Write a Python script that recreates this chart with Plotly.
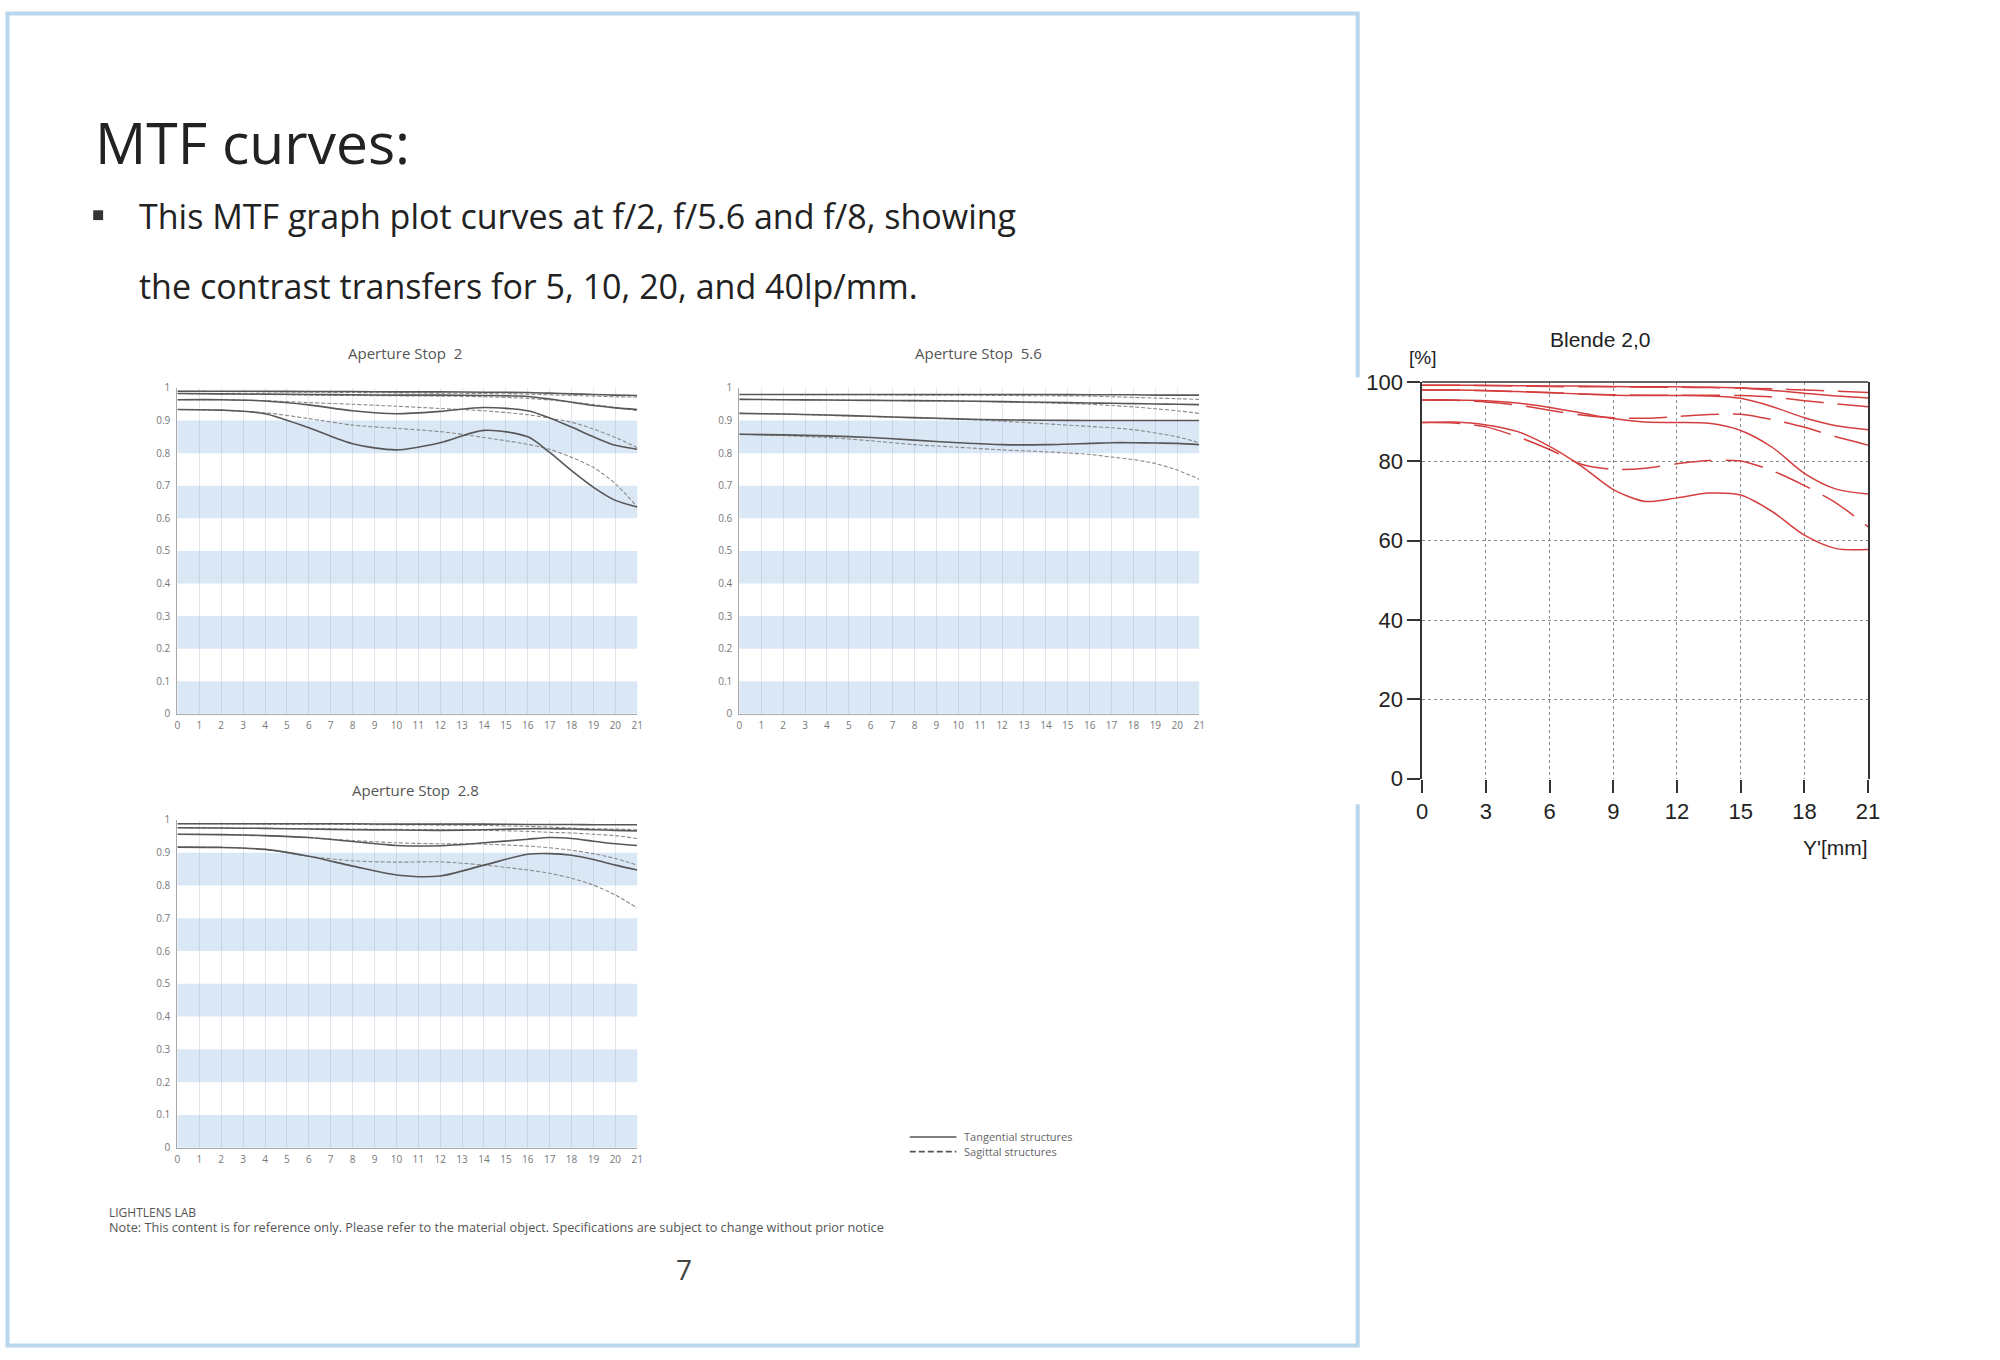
import plotly.graph_objects as go

W, H = 2000, 1360

# ---------------- data ----------------
# Grey MTF charts (Aperture Stop 2 / 5.6 / 2.8): image height in mm vs contrast
X_STOP = [0, 2, 4, 6, 8, 10, 12, 14, 16, 17, 18, 19, 20, 21]
X_STOP_TICKS = [0, 1, 2, 3, 4, 5, 6, 7, 8, 9, 10, 11, 12, 13, 14, 15, 16, 17, 18, 19, 20, 21]
Y_STOP_TICKS = [0, 0.1, 0.2, 0.3, 0.4, 0.5, 0.6, 0.7, 0.8, 0.9, 1]
Y_STOP_TICKTEXT = ["0", "0.1", "0.2", "0.3", "0.4", "0.5", "0.6", "0.7", "0.8", "0.9", "1"]

# Aperture Stop 2
S2_T1 = [.990, .990, .990, .989, .989, .988, .988, .987, .986, .984, .982, .980, .978, .977]
S2_S1 = [.990, .989, .988, .987, .986, .985, .984, .983, .981, .979, .977, .975, .973, .972]
S2_T2 = [.983, .982, .981, .980, .979, .978, .978, .977, .974, .966, .956, .946, .939, .934]
S2_S2 = [.983, .982, .980, .978, .977, .976, .975, .973, .968, .963, .957, .949, .940, .930]
S2_T3 = [.964, .964, .960, .948, .930, .921, .928, .940, .930, .908, .880, .850, .824, .812]
S2_S3 = [.964, .964, .961, .955, .950, .944, .937, .930, .918, .907, .895, .874, .848, .817]
S2_T4 = [.934, .932, .921, .878, .829, .810, .832, .870, .850, .802, .746, .695, .655, .635]
S2_S4 = [.934, .931, .924, .906, .886, .876, .866, .848, .827, .812, .787, .756, .706, .635]

# Aperture Stop 5.6
S56_T1 = [.980, .980, .980, .980, .980, .980, .980, .980, .979, .979, .979, .978, .978, .978]
S56_S1 = [.980, .980, .979, .979, .978, .978, .977, .976, .975, .973, .971, .969, .967, .965]
S56_T2 = [.965, .964, .963, .962, .961, .960, .958, .956, .954, .953, .952, .951, .950, .949]
S56_S2 = [.965, .964, .963, .962, .960, .959, .957, .954, .950, .946, .942, .936, .930, .922]
S56_T3 = [.922, .920, .917, .913, .909, .905, .902, .901, .900, .900, .900, .900, .900, .900]
S56_S3 = [.922, .920, .916, .912, .908, .904, .898, .890, .882, .878, .872, .862, .850, .832]
S56_T4 = [.858, .856, .853, .848, .840, .832, .826, .826, .830, .832, .832, .831, .830, .826]
S56_S4 = [.858, .854, .848, .838, .826, .818, .810, .804, .796, .788, .780, .768, .748, .720]

# Aperture Stop 2.8
S28_T1 = [.988, .988, .988, .988, .988, .987, .987, .987, .986, .986, .986, .985, .985, .985]
S28_S1 = [.988, .988, .987, .987, .986, .985, .984, .983, .980, .978, .975, .973, .972, .970]
S28_T2 = [.976, .975, .974, .972, .970, .969, .968, .970, .973, .973, .972, .970, .968, .966]
S28_S2 = [.976, .975, .974, .973, .972, .971, .970, .968, .965, .962, .960, .956, .952, .943]
S28_T3 = [.956, .955, .952, .946, .934, .922, .921, .930, .941, .946, .943, .935, .927, .922]
S28_S3 = [.956, .955, .952, .946, .937, .930, .927, .926, .920, .915, .907, .897, .882, .862]
S28_T4 = [.917, .916, .910, .889, .859, .832, .829, .862, .895, .897, .892, .879, .862, .847]
S28_S4 = [.917, .916, .910, .889, .875, .871, .872, .862, .847, .837, .822, .801, .771, .731]

# Red chart "Blende 2,0": Y'[mm] vs contrast [%]
X_BL = [0, 1.5, 3, 4.5, 6, 7.5, 9, 10.5, 12, 13.5, 15, 16.5, 18, 19.5, 21]
BL_X_TICKS = [0, 3, 6, 9, 12, 15, 18, 21]
BL_Y_TICKS = [0, 20, 40, 60, 80, 100]
BL_5_SOLID = [99.2, 99.2, 99.2, 99.1, 99.0, 99.0, 98.9, 98.8, 98.8, 98.7, 98.5, 97.9, 97.2, 96.5, 96.0]
BL_5_DASH = [99.2, 99.2, 99.1, 99.0, 98.9, 98.8, 98.8, 98.7, 98.7, 98.6, 98.5, 98.3, 98.0, 97.7, 97.4]
BL_10_SOLID = [98.0, 98.0, 97.9, 97.6, 97.3, 97.0, 96.7, 96.6, 96.6, 96.5, 95.9, 93.8, 91.0, 89.0, 88.0]
BL_10_DASH = [98.0, 98.0, 97.8, 97.6, 97.4, 97.0, 96.8, 96.7, 96.7, 96.7, 96.6, 96.2, 95.3, 94.5, 93.8]
BL_20_SOLID = [95.5, 95.5, 95.3, 94.7, 93.6, 92.2, 90.8, 89.9, 89.8, 89.6, 87.8, 83.5, 77.0, 73.0, 71.8]
BL_20_DASH = [95.5, 95.4, 95.0, 94.2, 92.9, 91.7, 91.0, 90.9, 91.3, 91.8, 91.9, 90.5, 88.6, 86.2, 84.1]
BL_40_SOLID = [89.8, 89.9, 89.2, 87.5, 83.8, 78.8, 72.9, 69.9, 70.8, 72.0, 71.5, 67.3, 61.4, 58.0, 57.8]
BL_40_DASH = [89.8, 89.7, 88.7, 86.2, 83.0, 79.3, 78.0, 78.3, 79.4, 80.2, 80.1, 77.6, 73.9, 69.5, 63.5]


def px(x):
    return x / W


def py(y):
    return 1 - y / H


fig = go.Figure()

TAN_COLOR = "#575757"
SAG_COLOR = "#8a8a8a"

stop_sets = [
    ("x", "y", [S2_T1, S2_T2, S2_T3, S2_T4], [S2_S1, S2_S2, S2_S3, S2_S4]),
    ("x2", "y2", [S56_T1, S56_T2, S56_T3, S56_T4], [S56_S1, S56_S2, S56_S3, S56_S4]),
    ("x3", "y3", [S28_T1, S28_T2, S28_T3, S28_T4], [S28_S1, S28_S2, S28_S3, S28_S4]),
]

for xa, ya, tans, sags in stop_sets:
    for s in sags:
        fig.add_trace(go.Scatter(
            x=X_STOP, y=s, xaxis=xa, yaxis=ya, mode="lines",
            line=dict(color=SAG_COLOR, width=1.1, dash="4px,2px", shape="spline", smoothing=0.8),
            name="Sagittal structures", showlegend=False, hoverinfo="skip"))
    for t in tans:
        fig.add_trace(go.Scatter(
            x=X_STOP, y=t, xaxis=xa, yaxis=ya, mode="lines",
            line=dict(color=TAN_COLOR, width=1.6, shape="spline", smoothing=0.8),
            name="Tangential structures", showlegend=False, hoverinfo="skip"))

RED = "rgb(212,62,62)"
for ys, dash in [(BL_5_SOLID, "solid"), (BL_5_DASH, "38px,14px"),
                 (BL_10_SOLID, "solid"), (BL_10_DASH, "38px,14px"),
                 (BL_20_SOLID, "solid"), (BL_20_DASH, "38px,14px"),
                 (BL_40_SOLID, "solid"), (BL_40_DASH, "38px,14px")]:
    fig.add_trace(go.Scatter(
        x=X_BL, y=ys, xaxis="x4", yaxis="y4", mode="lines",
        line=dict(color=RED, width=1.5, dash=dash, shape="spline", smoothing=0.8),
        showlegend=False, hoverinfo="skip"))

# ---------------- axes ----------------
tick_font = dict(family="Open Sans", size=10, color="#777")
stop_x = dict(range=[0, 21], tickvals=X_STOP_TICKS, ticktext=[str(v) for v in X_STOP_TICKS],
              showline=True, linecolor="#a8a8a8", linewidth=1.2, showgrid=True,
              gridcolor="rgba(150,165,185,0.28)", gridwidth=1, zeroline=False,
              ticks="", tickfont=tick_font, ticklabelstandoff=2)
stop_y = dict(range=[0, 1], tickvals=Y_STOP_TICKS, ticktext=Y_STOP_TICKTEXT,
              showline=True, linecolor="#a8a8a8", linewidth=1.2, showgrid=False,
              zeroline=False, ticks="", tickfont=tick_font, ticklabelstandoff=4)

bl_font = dict(family="Liberation Sans", size=22, color="#222")

fig.update_layout(
    width=W, height=H, autosize=False,
    margin=dict(l=0, r=0, t=0, b=0),
    paper_bgcolor="white", plot_bgcolor="white",
    xaxis=dict(domain=[px(173), px(637)], anchor="y", **stop_x),
    yaxis=dict(domain=[py(715), py(383)], anchor="x", **stop_y),
    xaxis2=dict(domain=[px(740), px(1204)], anchor="y2", **stop_x),
    yaxis2=dict(domain=[py(715), py(383)], anchor="x2", **stop_y),
    xaxis3=dict(domain=[px(173), px(637)], anchor="y3", **stop_x),
    yaxis3=dict(domain=[py(1157), py(823)], anchor="x3", **stop_y),
    xaxis4=dict(domain=[px(1429), px(1879)], anchor="y4", range=[0, 21], tickvals=BL_X_TICKS,
                showline=False, showgrid=True, gridcolor="#8a8a8a", griddash="dot", gridwidth=1,
                zeroline=False, ticks="outside", ticklen=13, tickwidth=1.5, tickcolor="#333",
                tickfont=bl_font),
    yaxis4=dict(domain=[py(781), py(377)], anchor="x4", range=[0, 100], tickvals=BL_Y_TICKS,
                showline=True, mirror=True, linecolor="#333", linewidth=1.5,
                showgrid=True, gridcolor="#8a8a8a", griddash="dot", gridwidth=1,
                zeroline=False, ticks="outside", ticklen=13, tickwidth=1.5, tickcolor="#333",
                tickfont=bl_font),
    showlegend=False,
)

shapes = []
# slide frame and white patch behind the red chart
shapes.append(dict(type="rect", xref="paper", yref="paper", x0=px(1.5), x1=px(1364), y0=py(1358.5), y1=py(1.5),
                   line=dict(color="#b9d7ec", width=4), fillcolor="white", layer="below"))
shapes.append(dict(type="rect", xref="paper", yref="paper", x0=px(1338), x1=px(1995), y0=py(807), y1=py(372),
                   line=dict(width=0), fillcolor="white", layer="below"))
# light blue bands in grey charts
for xa, ya in [("x", "y"), ("x2", "y2"), ("x3", "y3")]:
    for lo in [0.0, 0.2, 0.4, 0.6, 0.8]:
        shapes.append(dict(type="rect", xref=f"{xa} domain", yref=ya, x0=0, x1=1, y0=lo, y1=lo + 0.1,
                           line=dict(width=0), fillcolor="#dae8f6", layer="below"))
# top frame line of red chart
shapes.append(dict(type="line", xref="x4 domain", yref="y4 domain", x0=0, x1=1, y0=1, y1=1,
                   line=dict(color="#333", width=1.5)))
# bullet
shapes.append(dict(type="rect", xref="paper", yref="paper", x0=px(88), x1=px(98), y0=py(212), y1=py(202),
                   line=dict(width=0), fillcolor="#333"))
# legend samples (line styles)
shapes.append(dict(type="line", xref="paper", yref="paper", x0=px(912), x1=px(959), y0=py(1146), y1=py(1146),
                   line=dict(color="#555", width=1.6)))
shapes.append(dict(type="line", xref="paper", yref="paper", x0=px(912), x1=px(959), y0=py(1161), y1=py(1161),
                   line=dict(color="#555", width=1.6, dash="6px,3px")))
fig.update_layout(shapes=shapes)

body = "Open Sans"
ann = [
    dict(text="MTF curves:", x=px(88), y=py(132), xanchor="left", yanchor="middle",
         font=dict(family=body, size=57, color="#222")),
    dict(text="This MTF graph plot curves at f/2, f/5.6 and f/8, showing", x=px(132), y=py(208),
         xanchor="left", yanchor="middle", font=dict(family=body, size=34, color="#222")),
    dict(text="the contrast transfers for 5, 10, 20, and 40lp/mm.", x=px(132), y=py(279),
         xanchor="left", yanchor="middle", font=dict(family=body, size=34, color="#222")),
    dict(text="Aperture Stop  2", x=px(403), y=py(347), xanchor="center", yanchor="middle",
         font=dict(family=body, size=15, color="#555")),
    dict(text="Aperture Stop  5.6", x=px(981), y=py(347), xanchor="center", yanchor="middle",
         font=dict(family=body, size=15, color="#555")),
    dict(text="Aperture Stop  2.8", x=px(413), y=py(793), xanchor="center", yanchor="middle",
         font=dict(family=body, size=15, color="#555")),
    dict(text="Tangential structures", x=px(965), y=py(1146), xanchor="left", yanchor="middle",
         font=dict(family=body, size=11, color="#666")),
    dict(text="Sagittal structures", x=px(965), y=py(1161), xanchor="left", yanchor="middle",
         font=dict(family=body, size=11, color="#666")),
    dict(text="LIGHTLENS LAB", x=px(102), y=py(1223), xanchor="left", yanchor="middle",
         font=dict(family=body, size=12, color="#555")),
    dict(text="Note: This content is for reference only. Please refer to the material object. "
              "Specifications are subject to change without prior notice",
         x=px(102), y=py(1238), xanchor="left", yanchor="middle",
         font=dict(family=body, size=12.7, color="#555")),
    dict(text="7", x=px(684), y=py(1281), xanchor="center", yanchor="middle",
         font=dict(family=body, size=28, color="#444")),
    dict(text="Blende 2,0", x=px(1608), y=py(334), xanchor="center", yanchor="middle",
         font=dict(family="Liberation Sans", size=21, color="#222")),
    dict(text="[%]", x=px(1429), y=py(352), xanchor="center", yanchor="middle",
         font=dict(family="Liberation Sans", size=19, color="#222")),
    dict(text="Y'[mm]", x=px(1881), y=py(851), xanchor="right", yanchor="middle",
         font=dict(family="Liberation Sans", size=21, color="#222")),
]
for a in ann:
    a.update(xref="paper", yref="paper", showarrow=False)
fig.update_layout(annotations=ann)

fig.write_html("out.html", config={"displayModeBar": False},
               post_script="document.body.style.margin='0px';")
